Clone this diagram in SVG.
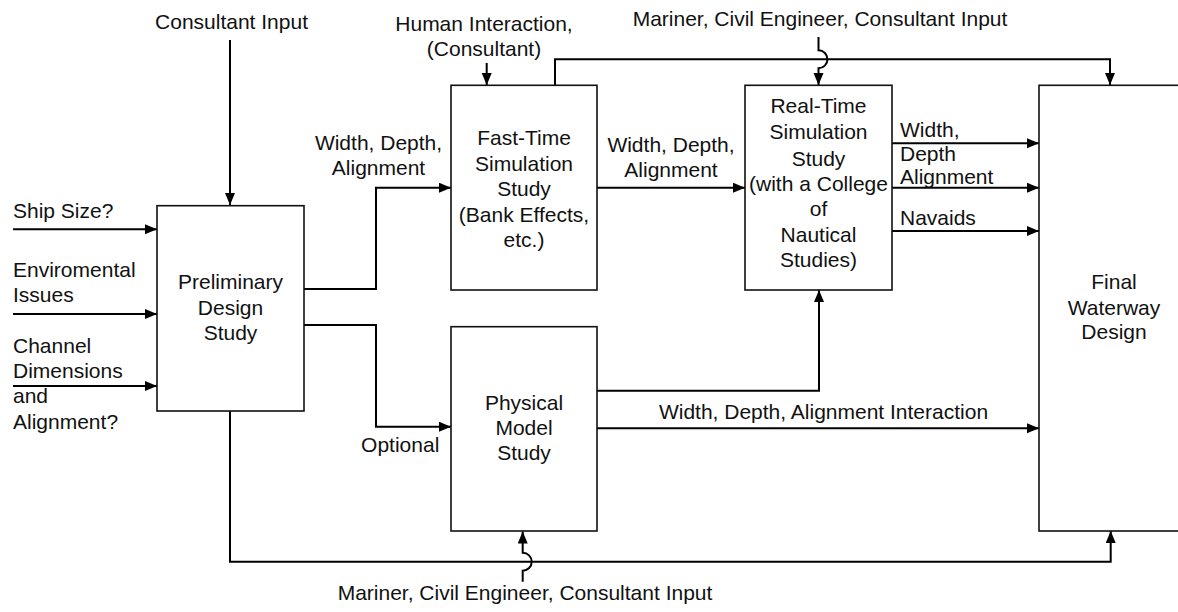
<svg xmlns="http://www.w3.org/2000/svg" width="1178" height="612" viewBox="0 0 1178 612">
<defs>
<marker id="ah" markerUnits="userSpaceOnUse" markerWidth="13" markerHeight="11" refX="12" refY="5" orient="auto">
<path d="M0,0 L12,5 L0,10 z" fill="#000"/>
</marker>
<style>
text{font-family:"Liberation Sans",Arial,Helvetica,sans-serif;font-size:21px;fill:#111;}
.c{text-anchor:middle;}
.e{text-anchor:end;}
.box{fill:#fff;stroke:#111;stroke-width:1.6;}
.ln{fill:none;stroke:#000;stroke-width:2;}
.ar{fill:none;stroke:#000;stroke-width:2;marker-end:url(#ah);}
</style>
</defs>
<rect width="1178" height="612" fill="#fff"/>

<g id="connectors">
<path class="ar" d="M230,40 V205"/>
<path class="ar" d="M486.7,63 V85"/>
<path class="ar" d="M13,229.3 H157"/>
<path class="ar" d="M13,314 H157"/>
<path class="ar" d="M13,386 H157"/>
<path class="ar" d="M304,289 H376 V187.7 H451"/>
<path class="ar" d="M304,325 H376 V426.7 H451"/>
<path class="ar" d="M597,187.7 H745"/>
<path class="ar" d="M555,85 V59.3 H1110 V85"/>
<path class="ar" d="M818.5,37 V50.3 A9,9 0 0 1 818.5,68.3 V85"/>
<path class="ar" d="M892,143.3 H1039"/>
<path class="ar" d="M892,187.7 H1039"/>
<path class="ar" d="M892,231 H1039"/>
<path class="ar" d="M597,390.7 H819 V290"/>
<path class="ar" d="M597,428.3 H1039"/>
<path class="ar" d="M230,411 V561.7 H1110.7 V531"/>
<path class="ar" d="M522.7,581.7 V570.7 A9,9 0 0 0 522.7,552.7 V531.5"/>
</g>

<g id="prelim">
<rect class="box" x="157" y="205.7" width="147" height="205.3"/>
<text class="c" x="230.5" y="289.3">Preliminary</text>
<text class="c" x="230.5" y="315">Design</text>
<text class="c" x="230.5" y="340">Study</text>
</g>

<g id="fasttime">
<rect class="box" x="451" y="85.3" width="146" height="204.7"/>
<text class="c" x="524" y="145">Fast-Time</text>
<text class="c" x="524" y="170.7">Simulation</text>
<text class="c" x="524" y="196">Study</text>
<text class="c" x="524" y="222.3">(Bank Effects,</text>
<text class="c" x="524" y="247.3">etc.)</text>
</g>

<g id="realtime">
<rect class="box" x="745" y="85.3" width="147" height="204.7"/>
<text class="c" x="818.5" y="113.3">Real-Time</text>
<text class="c" x="818.5" y="139.3">Simulation</text>
<text class="c" x="818.5" y="165.7">Study</text>
<text class="c" x="818.5" y="190.5">(with a College</text>
<text class="c" x="818.5" y="216">of</text>
<text class="c" x="818.5" y="241.7">Nautical</text>
<text class="c" x="818.5" y="267.3">Studies)</text>
</g>

<g id="physical">
<rect class="box" x="451" y="326.7" width="146" height="204.3"/>
<text class="c" x="524" y="410">Physical</text>
<text class="c" x="524" y="435">Model</text>
<text class="c" x="524" y="460">Study</text>
</g>

<g id="final">
<rect class="box" x="1039" y="85.3" width="160" height="445.7"/>
<text class="c" x="1114" y="289.3">Final</text>
<text class="c" x="1114" y="315">Waterway</text>
<text class="c" x="1114" y="339.3">Design</text>
</g>

<g id="labels">
<text class="c" x="231.5" y="29">Consultant Input</text>
<text class="c" x="484" y="30.7">Human Interaction,</text>
<text class="c" x="484" y="55.5">(Consultant)</text>
<text class="c" x="820" y="26">Mariner, Civil Engineer, Consultant Input</text>
<text class="c" x="378.5" y="150">Width, Depth,</text>
<text class="c" x="378.5" y="175">Alignment</text>
<text class="c" x="671" y="151.5">Width, Depth,</text>
<text class="c" x="671" y="176.5">Alignment</text>
<text x="900" y="137.3">Width,</text>
<text x="900" y="161">Depth</text>
<text x="900" y="183.5">Alignment</text>
<text x="900" y="225">Navaids</text>
<text class="c" x="823.5" y="419">Width, Depth, Alignment Interaction</text>
<text class="e" x="439.3" y="451.7">Optional</text>
<text x="13" y="218.3">Ship Size?</text>
<text x="13" y="277.3">Enviromental</text>
<text x="13" y="301.7">Issues</text>
<text x="13" y="353.3">Channel</text>
<text x="13" y="378.3">Dimensions</text>
<text x="13" y="403.3">and</text>
<text x="13" y="429.3">Alignment?</text>
<text class="c" x="525" y="600">Mariner, Civil Engineer, Consultant Input</text>
</g>
</svg>
